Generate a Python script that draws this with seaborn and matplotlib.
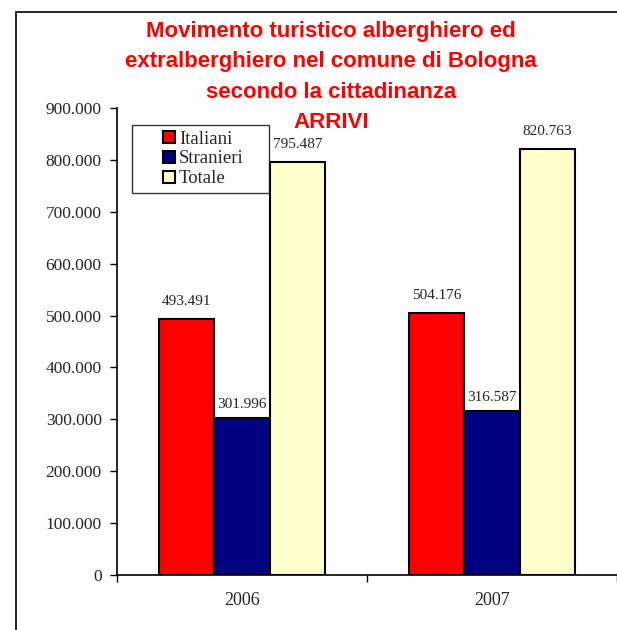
import matplotlib
matplotlib.use("Agg")
import matplotlib.pyplot as plt
from matplotlib.patches import Rectangle
from matplotlib.legend_handler import HandlerPatch
from matplotlib.ticker import FuncFormatter, MultipleLocator
import pandas
import seaborn

ANNI = ["2006", "2007"]
SERIE = ["Italiani", "Stranieri", "Totale"]
ITALIANI = [493491, 504176]
STRANIERI = [301996, 316587]
TOTALE = [795487, 820763]

PALETTE = {
    "Italiani": "#FF0000",
    "Stranieri": "#000080",
    "Totale": "#FFFFCC",
}

TITOLO = [
    "Movimento turistico alberghiero ed",
    "extralberghiero nel comune di Bologna",
    "secondo la cittadinanza",
    "ARRIVI",
]


def fmt_it(v, pos=None):
    return "{:,.0f}".format(v).replace(",", ".")


def square_handle(legend, orig_handle, xdescent, ydescent, width, height, fontsize):
    # quadratino spostato a destra del box del simbolo
    return Rectangle((width - height - xdescent, -ydescent), height, height)


def draw_graph():
    rows = []
    for serie, valori in zip(SERIE, [ITALIANI, STRANIERI, TOTALE]):
        for anno, v in zip(ANNI, valori):
            rows.append([anno, serie, v])
    df = pandas.DataFrame(rows, columns=["anno", "serie", "valore"])

    seaborn.set_style("white")
    plt.rcParams["font.family"] = ["Liberation Serif", "DejaVu Serif"]

    fig = plt.figure(figsize=(6.17, 6.30), dpi=100)
    ax = fig.add_axes([117 / 617, 1 - 575 / 630, 500 / 617, 467 / 630])

    seaborn.barplot(x="anno", y="valore", hue="serie", data=df,
                    order=ANNI, hue_order=SERIE, palette=PALETTE,
                    width=0.664, saturation=1, edgecolor="black",
                    linewidth=1.5, ax=ax)

    ax.set_xlim(-0.5, 1.5)
    ax.set_ylim(0, 900000)
    ax.yaxis.set_major_locator(MultipleLocator(100000))
    ax.yaxis.set_major_formatter(FuncFormatter(fmt_it))
    ax.set_xlabel("")
    ax.set_ylabel("")

    # tick ai bordi delle categorie sull'asse x
    ax.set_xticks([0, 1])
    ax.set_xticklabels(ANNI, fontsize=13)
    ax.set_xticks([-0.5, 0.5, 1.5], minor=True)
    ax.tick_params(axis="x", which="major", length=0, pad=12)
    ax.tick_params(axis="x", which="minor", length=5, width=1, direction="out",
                   bottom=True, color="black")
    ax.tick_params(axis="y", length=5, width=1, direction="out", left=True,
                   labelsize=12.5, color="black", pad=6)

    for side in ["top", "right"]:
        ax.spines[side].set_visible(False)
    for side in ["left", "bottom"]:
        ax.spines[side].set_color("black")
        ax.spines[side].set_linewidth(1.2)

    for i, cont in enumerate(ax.containers):
        labels = [fmt_it(v) for v in cont.datavalues]
        if i == 1:
            ax.bar_label(cont, labels=labels, padding=5, fontsize=11,
                         bbox=dict(facecolor="white", edgecolor="none", pad=1.5))
        else:
            ax.bar_label(cont, labels=labels, padding=8, fontsize=11)

    leg = ax.legend(loc="upper left", bbox_to_anchor=(0.03, 0.818, 0.274, 0.1456),
                    mode="expand", fontsize=13.5, frameon=True, fancybox=False,
                    handlelength=2.0, handleheight=0.6, handletextpad=0.2,
                    labelspacing=0.15, borderpad=0.3, borderaxespad=0,
                    handler_map={Rectangle: HandlerPatch(patch_func=square_handle)})
    leg.get_frame().set_edgecolor("black")
    leg.get_frame().set_linewidth(1.0)
    for h in leg.legend_handles:
        h.set_edgecolor("black")
        h.set_linewidth(1.5)

    for i, riga in enumerate(TITOLO):
        fig.text(331 / 617, 1 - (31 + 30.5 * i) / 630, riga, ha="center",
                 va="center", color="#FF0000", fontsize=16,
                 fontweight="bold", family=["Liberation Sans", "DejaVu Sans"])

    fig.add_artist(Rectangle((16 / 617, -0.1), 2, 1 - 12 / 630 + 0.1,
                             transform=fig.transFigure, fill=False,
                             edgecolor="black", linewidth=1.2))

    fig.savefig("out.png", dpi=100)


draw_graph()
